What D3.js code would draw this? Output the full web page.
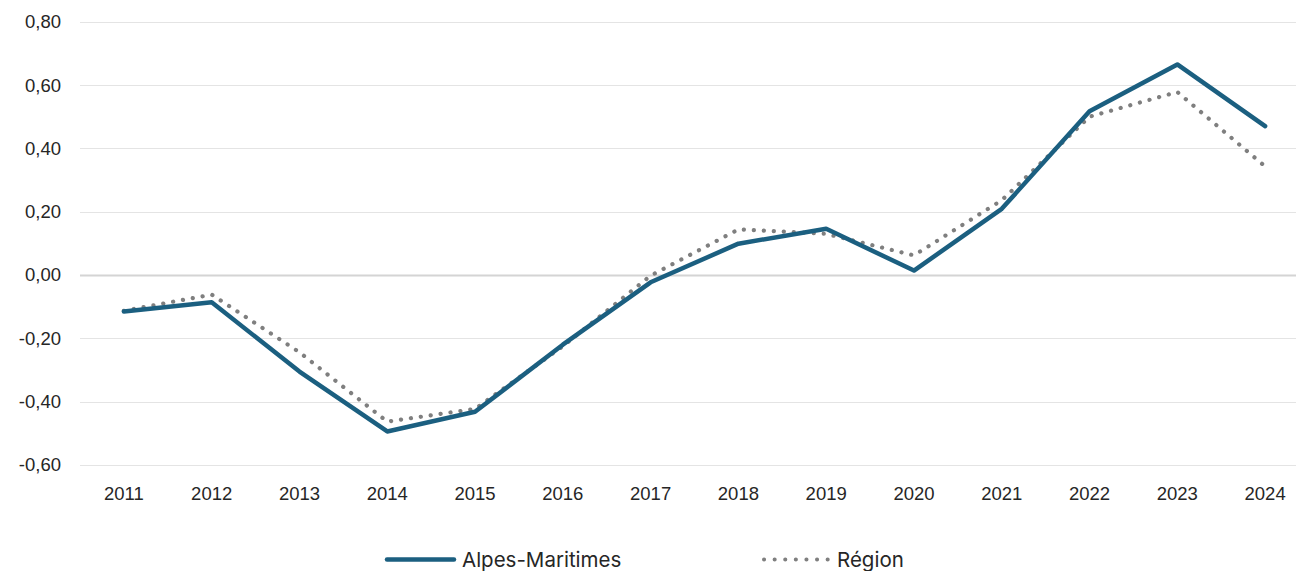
<!DOCTYPE html>
<html lang="fr">
<head>
    <meta charset="UTF-8">
    <title>Alpes-Maritimes vs Région</title>
    <script src="https://d3js.org/d3.v7.min.js"></script>
    <style>
        body {
            margin: 0;
            background: #ffffff;
            font-family: 'Liberation Sans', Arial, sans-serif;
        }
        .tick-label {
            font-size: 18.5px;
            fill: #262626;
        }
        .legend text {
            font-family: 'Inter', 'Liberation Sans', sans-serif;
            font-size: 20.5px;
            fill: #262626;
        }
    </style>
</head>
<body>
    <div id="chart"></div>

    <script>
        // data
        const years = [2011, 2012, 2013, 2014, 2015, 2016, 2017, 2018, 2019, 2020, 2021, 2022, 2023, 2024];
        const alpesMaritimes = [-0.115, -0.086, -0.305, -0.494, -0.432, -0.22, -0.023, 0.099, 0.146, 0.014, 0.209, 0.517, 0.665, 0.47];
        const region = [-0.113, -0.062, -0.244, -0.463, -0.423, -0.225, -0.002, 0.144, 0.13, 0.062, 0.236, 0.50, 0.578, 0.343];
        const yTicks = [-0.6, -0.4, -0.2, 0, 0.2, 0.4, 0.6, 0.8];
        const seriesNames = ["Alpes-Maritimes", "Région"];

        const width = 1296, height = 571;

        const svg = d3.select("#chart")
            .append("svg")
            .attr("width", width)
            .attr("height", height);

        const x = d3.scalePoint()
            .domain(years)
            .range([80, 1309])
            .padding(0.5);

        const y = d3.scaleLinear()
            .domain([-0.6, 0.8])
            .range([465, 21.7]);

        const fmt = v => (Math.abs(v) < 1e-9 ? 0 : v).toFixed(2).replace(".", ",");

        // gridlines
        svg.append("g")
            .selectAll("line")
            .data(yTicks)
            .join("line")
            .attr("x1", 80)
            .attr("x2", width)
            .attr("y1", d => Math.round(y(d)) + 0.5)
            .attr("y2", d => Math.round(y(d)) + 0.5)
            .attr("stroke", d => d === 0 ? "#d4d4d4" : "#e4e4e4")
            .attr("stroke-width", d => d === 0 ? 2 : 1);

        // y labels
        svg.append("g")
            .selectAll("text")
            .data(yTicks)
            .join("text")
            .attr("class", "tick-label")
            .attr("x", 61)
            .attr("y", d => y(d))
            .attr("dy", "0.35em")
            .attr("text-anchor", "end")
            .text(fmt);

        // x labels
        svg.append("g")
            .selectAll("text")
            .data(years)
            .join("text")
            .attr("class", "tick-label")
            .attr("x", d => x(d))
            .attr("y", 500)
            .attr("text-anchor", "middle")
            .text(d => d);

        const line = d3.line()
            .x((d, i) => x(years[i]))
            .y(d => y(d));

        // region (dotted)
        svg.append("path")
            .datum(region)
            .attr("fill", "none")
            .attr("stroke", "#7f7f7f")
            .attr("stroke-width", 4.2)
            .attr("stroke-linecap", "round")
            .attr("stroke-dasharray", "0.1 9.9")
            .attr("d", line);

        // Alpes-Maritimes (solid)
        svg.append("path")
            .datum(alpesMaritimes)
            .attr("fill", "none")
            .attr("stroke", "#1b5f80")
            .attr("stroke-width", 4.5)
            .attr("stroke-linejoin", "round")
            .attr("stroke-linecap", "round")
            .attr("d", line);

        // legend
        const legend = svg.append("g").attr("class", "legend");
        const legendY = 559.5;

        legend.append("line")
            .attr("x1", 387).attr("x2", 454)
            .attr("y1", legendY).attr("y2", legendY)
            .attr("stroke", "#1b5f80")
            .attr("stroke-width", 4.5)
            .attr("stroke-linecap", "round");
        legend.append("text")
            .attr("x", 462)
            .attr("y", legendY)
            .attr("dy", "0.36em")
            .text(seriesNames[0]);

        legend.append("line")
            .attr("x1", 764).attr("x2", 830)
            .attr("y1", legendY).attr("y2", legendY)
            .attr("stroke", "#7f7f7f")
            .attr("stroke-width", 4)
            .attr("stroke-linecap", "round")
            .attr("stroke-dasharray", "0.1 10.5");
        legend.append("text")
            .attr("x", 837)
            .attr("y", legendY)
            .attr("dy", "0.36em")
            .text(seriesNames[1]);
    </script>
</body>
</html>
